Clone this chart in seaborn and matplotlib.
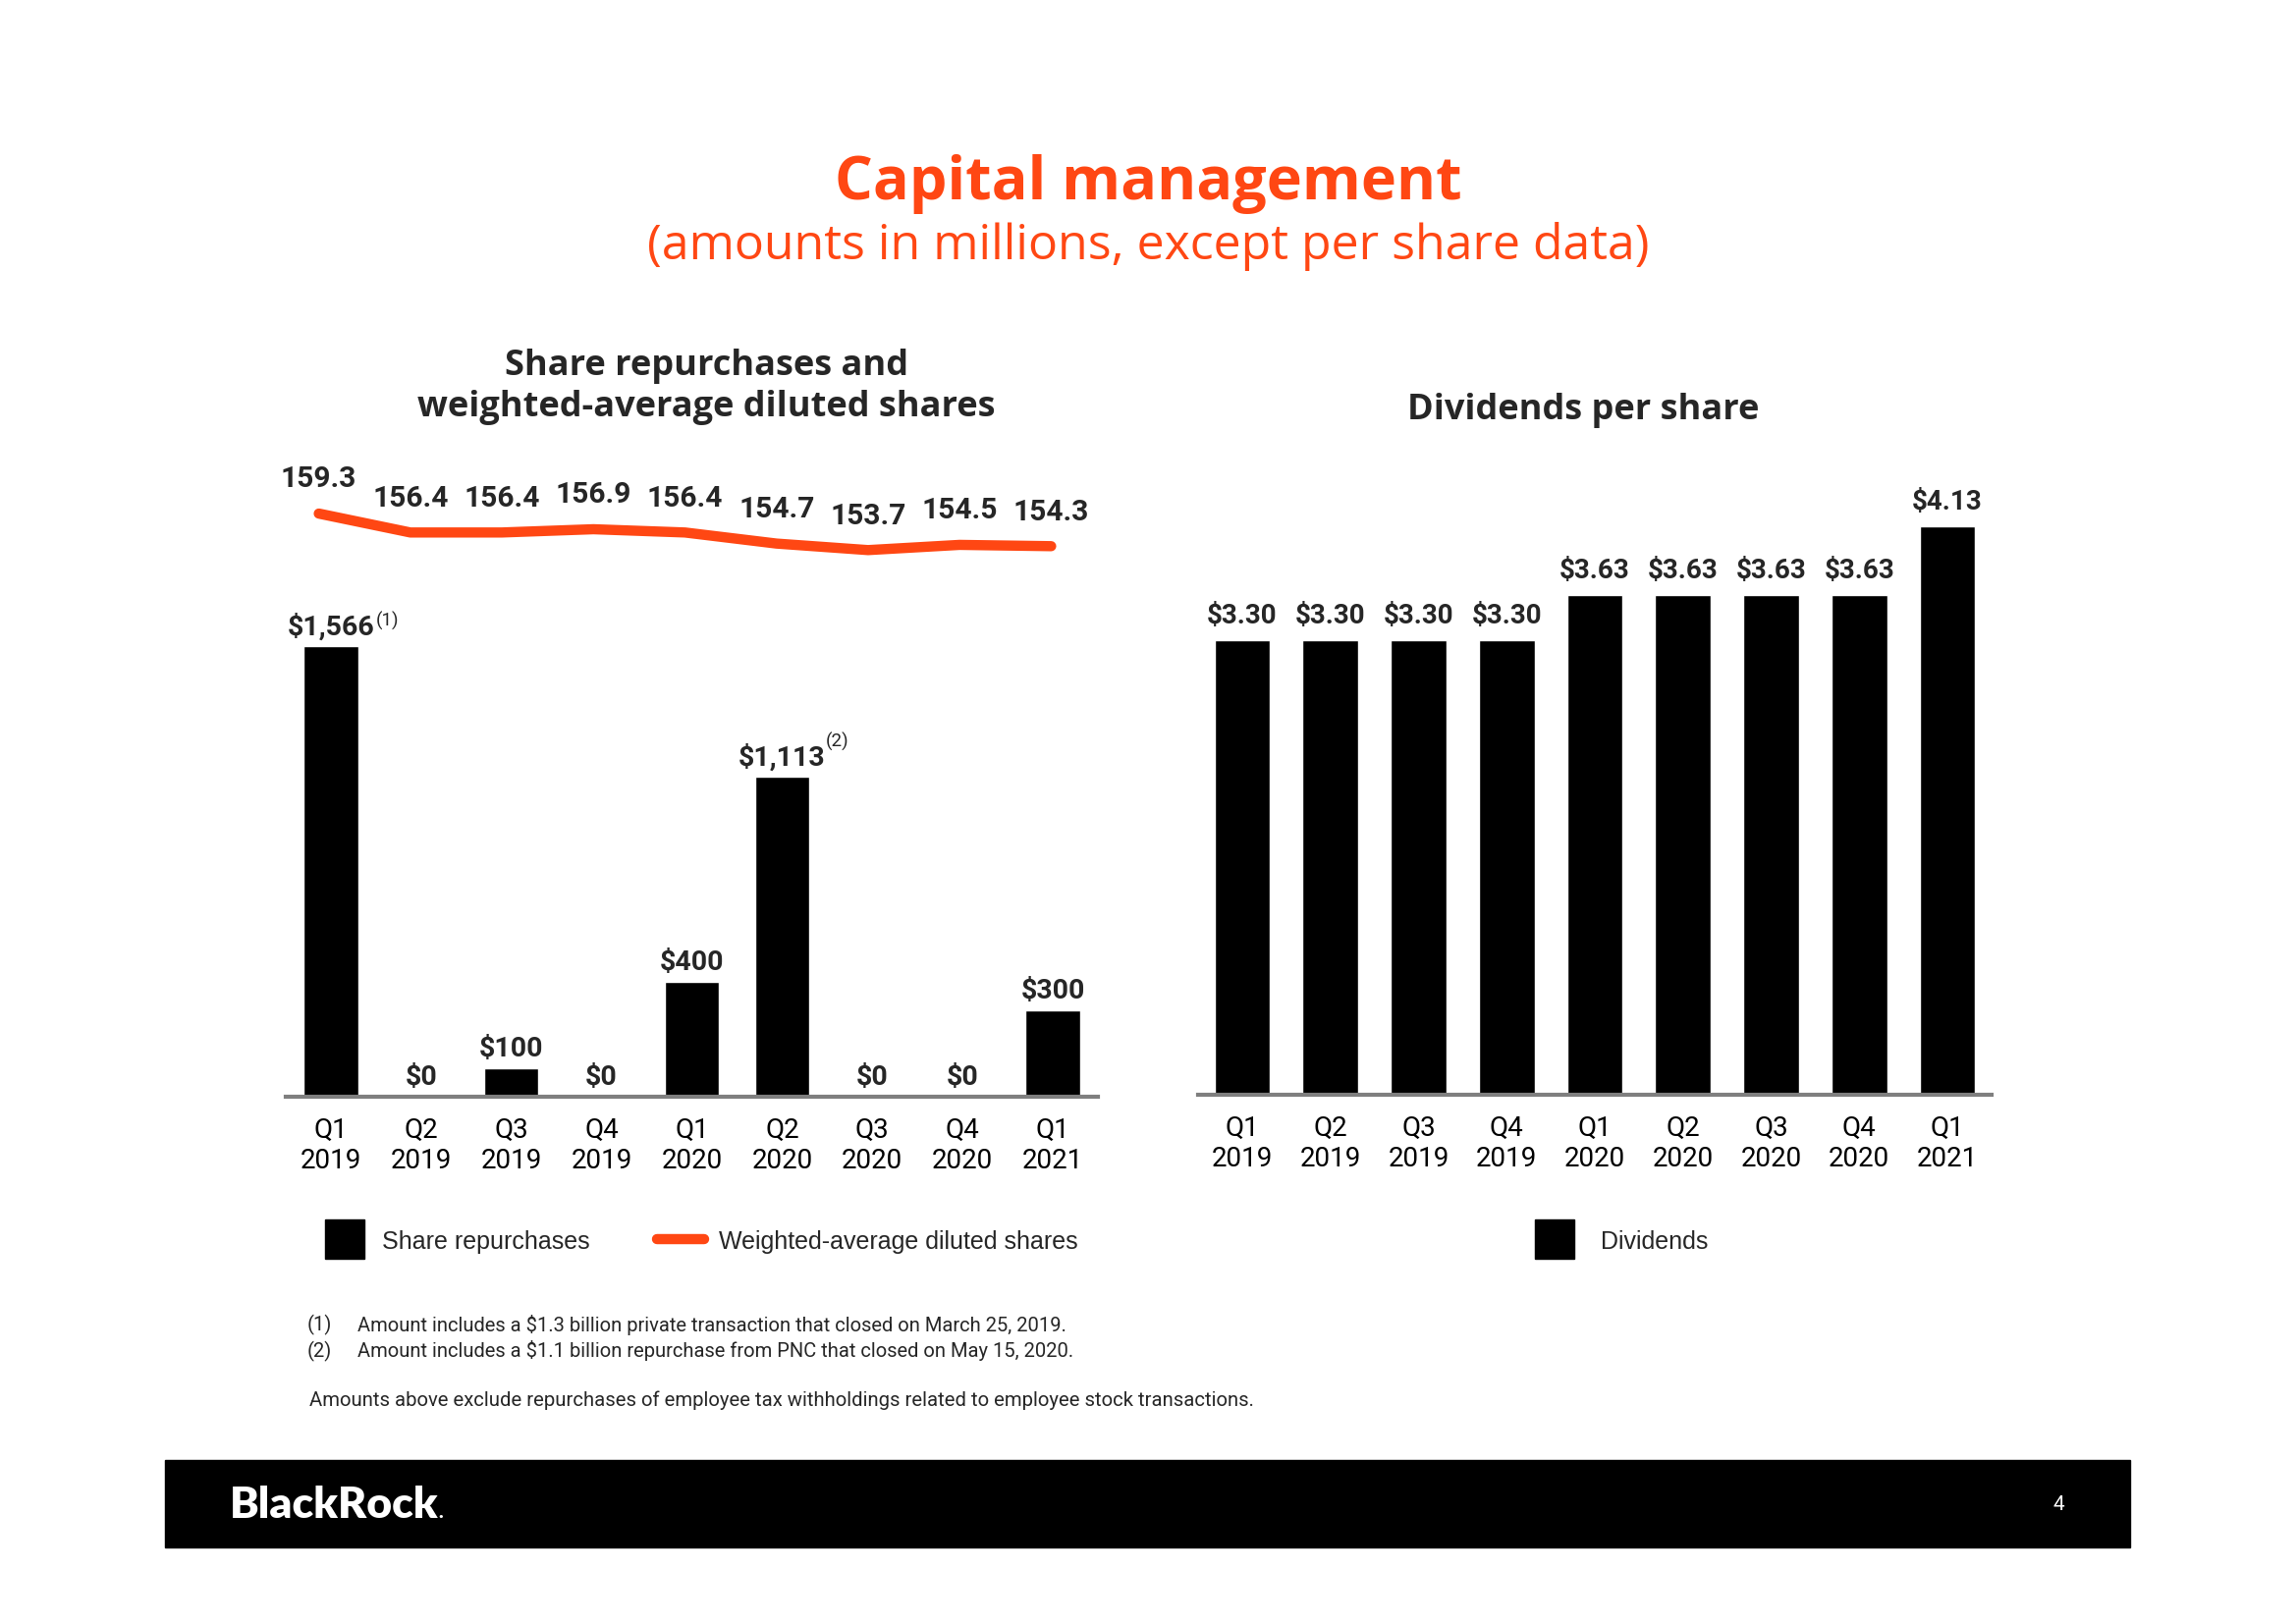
import numpy as np
import pandas as pd
import seaborn as sns
import matplotlib.pyplot as plt
from matplotlib.patches import Rectangle
from matplotlib.lines import Line2D

# Colours
ORANGE = '#ff4713'
GREY = '#7f7f7f'

# Data
quarters = ['Q1\n2019', 'Q2\n2019', 'Q3\n2019', 'Q4\n2019', 'Q1\n2020',
            'Q2\n2020', 'Q3\n2020', 'Q4\n2020', 'Q1\n2021']
repurchases = [1566, 0, 100, 0, 400, 1113, 0, 0, 300]
repurchase_notes = ['(1)', '', '', '', '', '(2)', '', '', '']
diluted_shares = [159.3, 156.4, 156.4, 156.9, 156.4, 154.7, 153.7, 154.5, 154.3]
dividends = [3.30, 3.30, 3.30, 3.30, 3.63, 3.63, 3.63, 3.63, 4.13]

footnotes = [
    ('(1)', 'Amount includes a $1.3 billion private transaction that closed on March 25, 2019.'),
    ('(2)', 'Amount includes a $1.1 billion repurchase from PNC that closed on May 15, 2020.'),
]
disclaimer = 'Amounts above exclude repurchases of employee tax withholdings related to employee stock transactions.'

sns.set_theme(style='white')
plt.rcParams['font.family'] = ['Roboto', 'DejaVu Sans']

W, H = 2338, 1653


def fig_box(x0, y0, x1, y1):
    # pixel box (top-left origin) -> figure fraction rect
    return [x0 / W, 1 - y1 / H, (x1 - x0) / W, (y1 - y0) / H]


def style_axis(ax):
    for side in ['top', 'right', 'left']:
        ax.spines[side].set_visible(False)
    ax.spines['bottom'].set_color(GREY)
    ax.spines['bottom'].set_linewidth(3)
    ax.set_yticks([])
    ax.set_xlabel('')
    ax.set_ylabel('')
    ax.tick_params(axis='x', length=0, pad=15, labelsize=20, colors='black')
    for t in ax.get_xticklabels():
        t.set_linespacing(1.2)
    ax.set_xlim(-0.5, 8.5)
    ax.patch.set_alpha(0)


fig = plt.figure(figsize=(W / 100, H / 100), dpi=100)
fig.patch.set_facecolor('white')

# ---- left: share repurchases
df_rep = pd.DataFrame({'quarter': quarters, 'repurchases': repurchases,
                       'shares': diluted_shares})
ax_rep = fig.add_axes(fig_box(291, 600, 1118, 1117))
sns.barplot(data=df_rep, x='quarter', y='repurchases', color='black',
            saturation=1, width=0.6, errorbar=None, ax=ax_rep)
ax_rep.set_ylim(0, 1763)
style_axis(ax_rep)
for i, (v, note) in enumerate(zip(repurchases, repurchase_notes)):
    ax_rep.annotate(f'${v:,.0f}', (i, v), xytext=(0, 14), textcoords='offset points',
                    ha='center', va='center', fontsize=20.5, fontweight='bold')
    if note:
        dx, dy = (33, 18) if i == 0 else (32, 25)
        ax_rep.annotate(note, (i, v), xytext=(dx, dy), textcoords='offset points',
                        ha='left', va='center', fontsize=13.5)

# ---- left: weighted-average diluted shares line
ax_sh = fig.add_axes(fig_box(278, 440, 1117, 640))
sns.lineplot(x=np.arange(len(quarters)), y=df_rep['shares'], color=ORANGE,
             linewidth=7.5, solid_capstyle='round', ax=ax_sh)
ax_sh.set_xlim(-0.5, 8.5)
ax_sh.set_ylim(141.7, 171.8)
ax_sh.axis('off')
for i, v in enumerate(diluted_shares):
    ax_sh.annotate(f'{v:.1f}', (i, v), xytext=(0, 25), textcoords='offset points',
                   ha='center', va='center', fontsize=21.5, fontweight='bold')

# ---- right: dividends per share
df_div = pd.DataFrame({'quarter': quarters, 'dividends': dividends})
ax_div = fig.add_axes(fig_box(1220, 480, 2028, 1115))
sns.barplot(data=df_div, x='quarter', y='dividends', color='black',
            saturation=1, width=0.63, errorbar=None, ax=ax_div)
ax_div.set_ylim(0, 4.53)
style_axis(ax_div)
for i, v in enumerate(dividends):
    ax_div.annotate(f'${v:.2f}', (i, v), xytext=(0, 18), textcoords='offset points',
                    ha='center', va='center', fontsize=20, fontweight='bold')

# ---- titles
fig.text(0.5, 1 - 188 / H, 'Capital management', ha='center', va='center',
         fontsize=44, fontweight='bold', color=ORANGE, family='Open Sans')
fig.text(0.5, 1 - 251 / H, '(amounts in millions, except per share data)',
         ha='center', va='center', fontsize=36, color=ORANGE, family='Open Sans')
fig.text(719 / W, 1 - 394 / H, 'Share repurchases and\nweighted-average diluted shares',
         ha='center', va='center', fontsize=26, fontweight='bold',
         linespacing=1.2, family='Open Sans')
fig.text(1612 / W, 1 - 418 / H, 'Dividends per share', ha='center', va='center',
         fontsize=26, fontweight='bold', family='Open Sans')

# ---- legends
fig.patches.append(Rectangle((331 / W, 1 - 1282 / H), 40 / W, 40 / H,
                             transform=fig.transFigure, color='black'))
fig.text(389 / W, 1 - 1265 / H, 'Share repurchases', va='center', fontsize=18,
         family='Liberation Sans')
fig.lines.append(Line2D([669 / W, 717 / W], [1 - 1262 / H] * 2, transform=fig.transFigure,
                        color=ORANGE, linewidth=7.5, solid_capstyle='round'))
fig.text(732 / W, 1 - 1265 / H, 'Weighted-average diluted shares', va='center',
         fontsize=18, family='Liberation Sans')
fig.patches.append(Rectangle((1563 / W, 1 - 1282 / H), 40 / W, 40 / H,
                             transform=fig.transFigure, color='black'))
fig.text(1630 / W, 1 - 1265 / H, 'Dividends', va='center', fontsize=18,
         family='Liberation Sans')

# ---- footnotes
for k, (mark, txt) in enumerate(footnotes):
    y = 1 - (1349 + 27 * k) / H
    fig.text(313 / W, y, mark, va='center', fontsize=14.5)
    fig.text(364 / W, y, txt, va='center', fontsize=14.5)
fig.text(315 / W, 1 - 1426 / H, disclaimer, va='center', fontsize=14.6)

# ---- footer bar
fig.patches.append(Rectangle((168 / W, 1 - 1576 / H), 2001 / W, 89 / H,
                             transform=fig.transFigure, color='black'))
fig.text(234 / W, 1 - 1533 / H, 'BlackRock', va='center', fontsize=32,
         fontweight='heavy', color='white', family='Lato')
fig.text(446 / W, 1 - 1541 / H, '.', va='center', fontsize=14,
         fontweight='heavy', color='white', family='Lato')
fig.text(2096 / W, 1 - 1533 / H, '4', ha='center', va='center', fontsize=15,
         color='white')

fig.savefig('out.png', dpi=100)
